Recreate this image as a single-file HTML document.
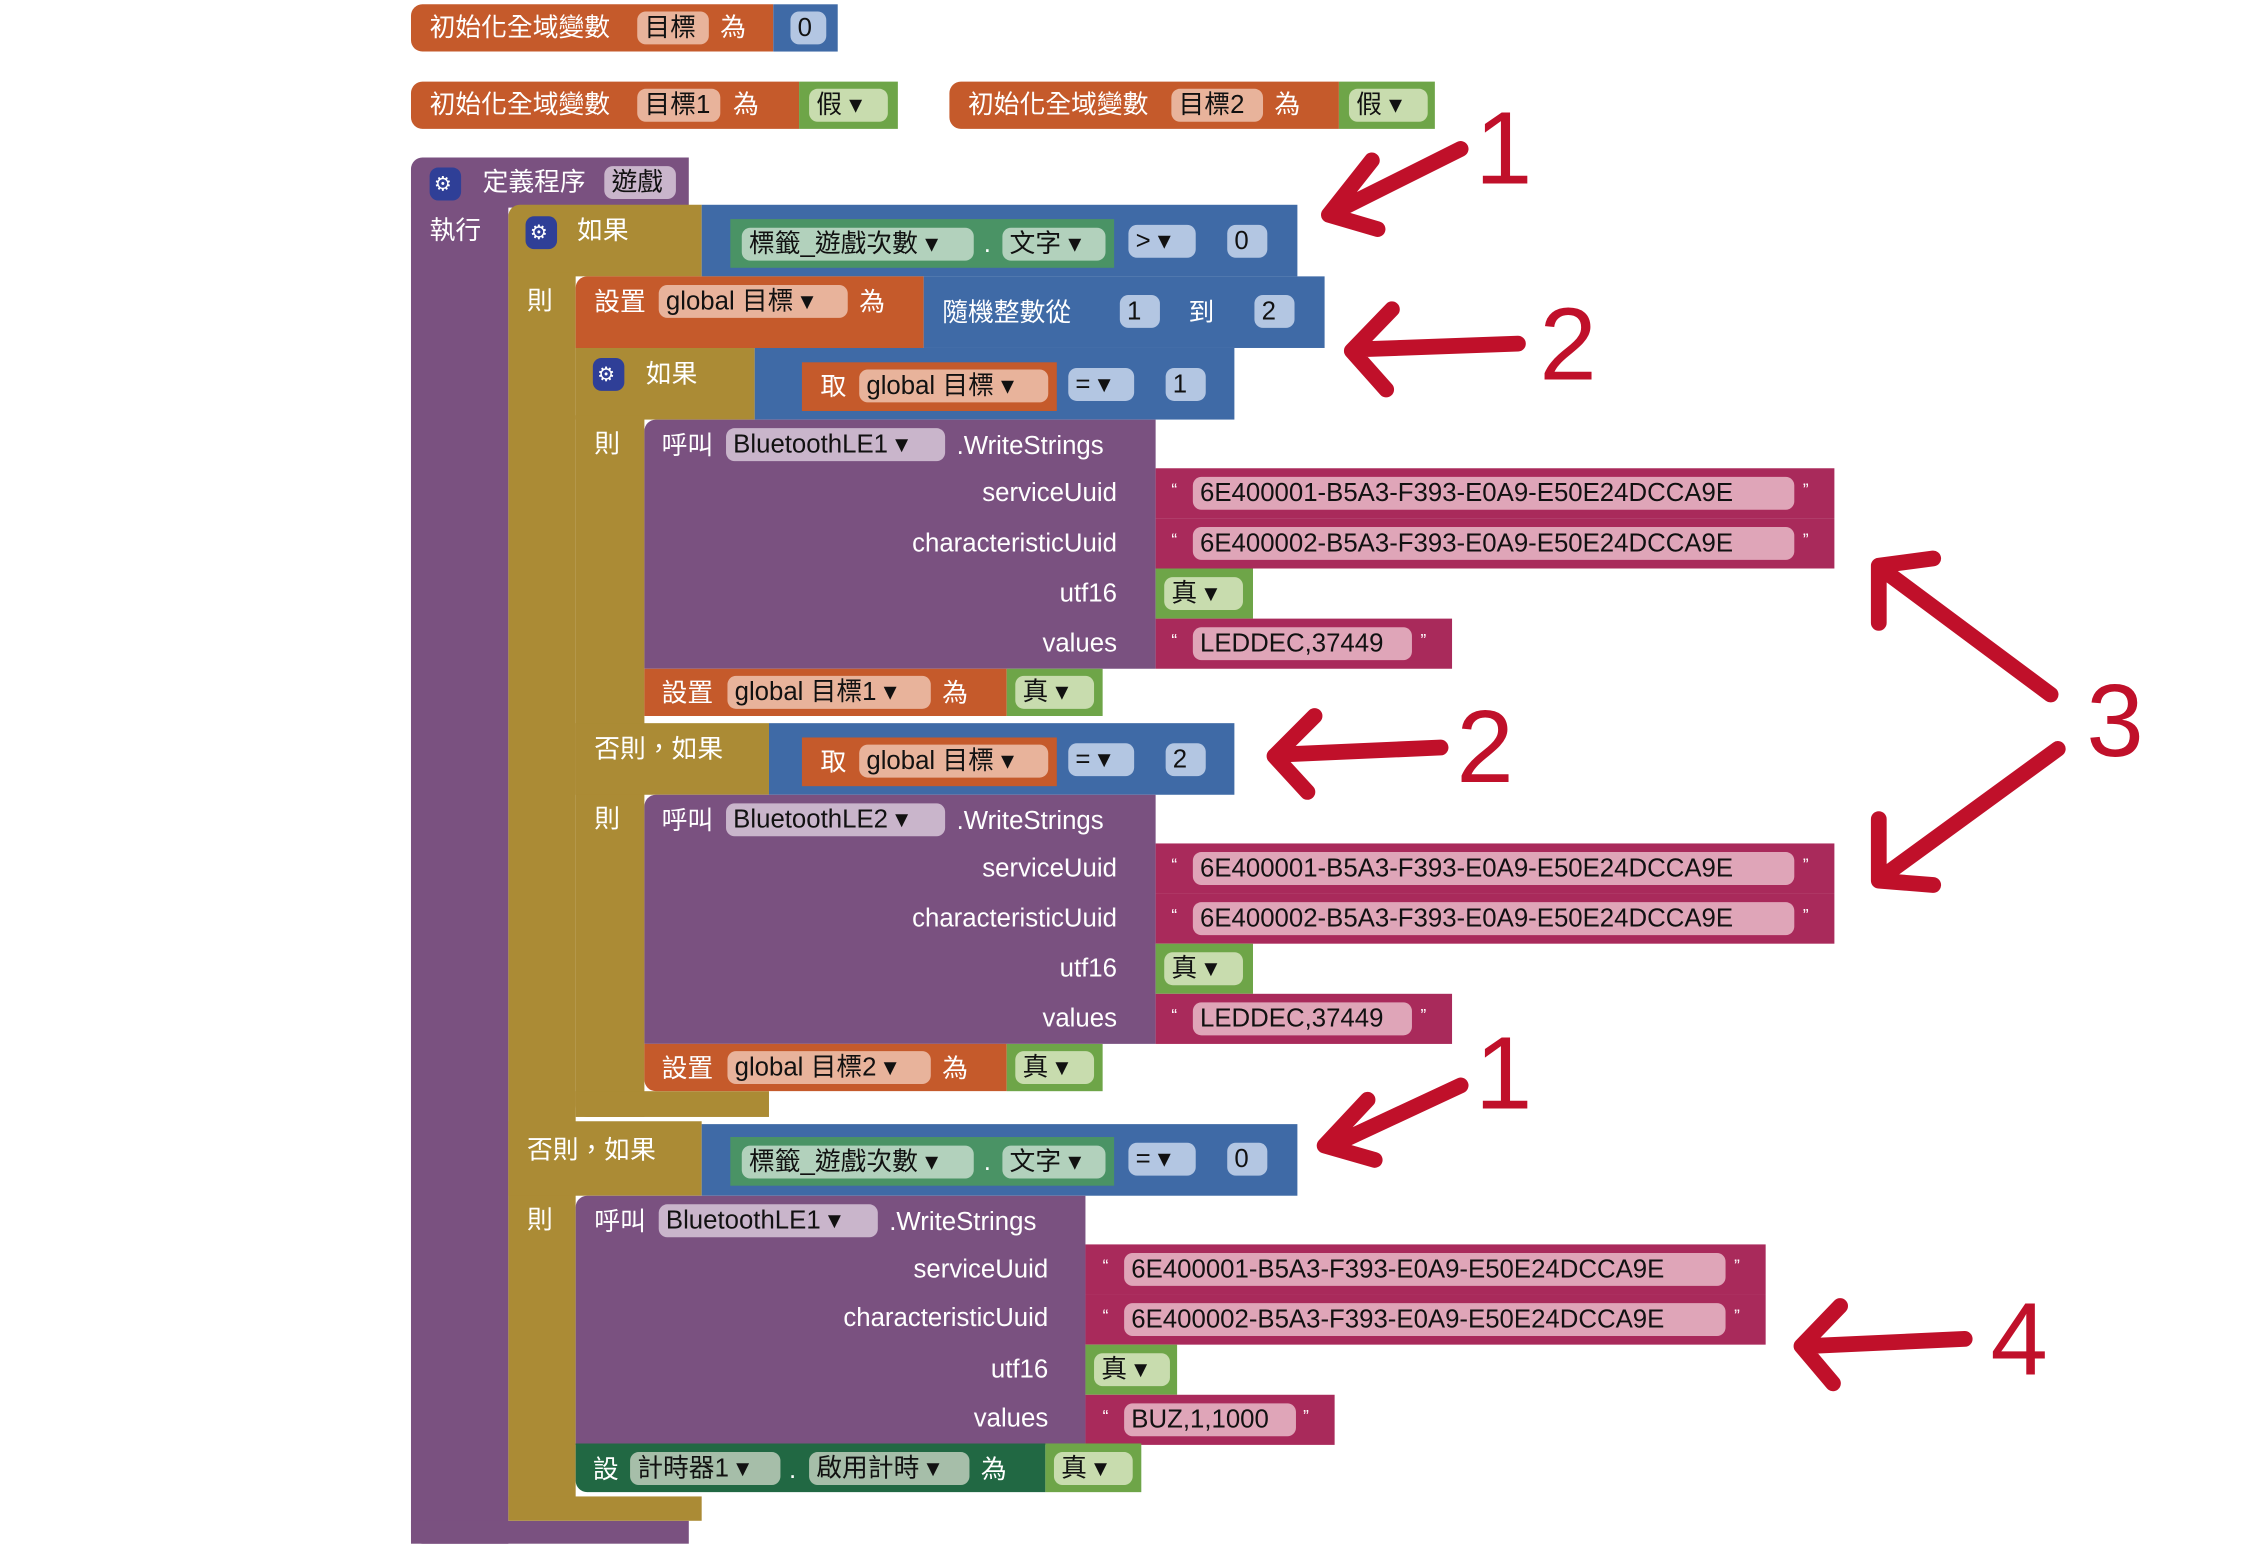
<!DOCTYPE html>
<html><head><meta charset="utf-8"><style>
body{margin:0;width:2244px;height:1547px;background:#fff;overflow:hidden}
#c{position:absolute;left:0;top:0;width:1570px;height:1080px;transform:scale(1.432);transform-origin:0 0;font-family:"Liberation Sans","Noto Sans CJK TC",sans-serif;font-size:18px}
.b{position:absolute;box-sizing:border-box}
.t{position:absolute;color:#fff;white-space:nowrap;line-height:20px}
.p{position:absolute;border-radius:6px;color:#111;white-space:nowrap;line-height:22px;padding:0 5px;box-sizing:border-box;height:23px}
.o{background:#c55a2b}.op{background:#e8b39b}
.u{background:#3f6aa6}.up{background:#b3c6e2}
.g{background:#6ea548}.gp{background:#c8dcae}
.m{background:#a92a5b}.mp{background:#dfa5b8}
.v{background:#7a5180}.vp{background:#c9b5cb}
.ol{background:#ab8b35}
.tg{background:#4a9365}.tgp{background:#b2d1bc}
.dg{background:#216843}.dgp{background:#a6bea9}
</style></head><body><div id="c">
<div class="b o" style="left:287px;top:3px;width:253px;height:33px;border-radius:8px 0 0 8px"></div>
<div class="t" style="left:300px;top:9px">初始化全域變數</div>
<div class="p op" style="left:445px;top:8px;width:50px">目標</div>
<div class="t" style="left:503px;top:9px">為</div>
<div class="b u" style="left:540px;top:3px;width:45px;height:33px"></div>
<div class="p up" style="left:552px;top:8px;width:25px">0</div>

<div class="b o" style="left:287px;top:57px;width:271px;height:33px;border-radius:8px 0 0 8px"></div>
<div class="t" style="left:300px;top:63px">初始化全域變數</div>
<div class="p op" style="left:445px;top:62px;width:58px">目標1</div>
<div class="t" style="left:512px;top:63px">為</div>
<div class="b g" style="left:558px;top:57px;width:69px;height:33px"></div>
<div class="p gp" style="left:565px;top:62px;width:55px">假 ▾</div>

<div class="b o" style="left:663px;top:57px;width:272px;height:33px;border-radius:8px 0 0 8px"></div>
<div class="t" style="left:676px;top:63px">初始化全域變數</div>
<div class="p op" style="left:818px;top:62px;width:64px">目標2</div>
<div class="t" style="left:890px;top:63px">為</div>
<div class="b g" style="left:935px;top:57px;width:67px;height:33px"></div>
<div class="p gp" style="left:942px;top:62px;width:55px">假 ▾</div>

<div class="b v" style="left:287px;top:110px;width:194px;height:35px;border-radius:8px 0 0 0"></div>
<div class="b v" style="left:287px;top:140px;width:68px;height:938px;border-radius:0 0 0 8px"></div>
<div class="b v" style="left:287px;top:1062px;width:194px;height:16px"></div>
<div class="p" style="left:300px;top:117px;width:22px;background:#2f3f97;color:#fff;font-size:14px;padding:0 3px">⚙</div>
<div class="t" style="left:337px;top:117px">定義程序</div>
<div class="p vp" style="left:422px;top:116px;width:50px">遊戲</div>
<div class="t" style="left:300px;top:151px">執行</div>

<div class="b ol" style="left:355px;top:143px;width:135px;height:50px;border-radius:8px 0 0 0"></div>
<div class="b ol" style="left:355px;top:190px;width:47px;height:870px;border-radius:0 0 0 8px"></div>
<div class="b ol" style="left:355px;top:783px;width:135px;height:52px"></div>
<div class="b ol" style="left:355px;top:1045px;width:135px;height:17px"></div>
<div class="p" style="left:367px;top:151px;width:22px;background:#2f3f97;color:#fff;font-size:14px;padding:0 3px">⚙</div>
<div class="t" style="left:403px;top:151px">如果</div>
<div class="t" style="left:368px;top:200px">則</div>
<div class="t" style="left:368px;top:793px">否則，如果</div>
<div class="t" style="left:368px;top:842px">則</div>

<div class="b u" style="left:490px;top:143px;width:416px;height:50px"></div>
<div class="b tg" style="left:510px;top:153px;width:268px;height:34px"></div>
<div class="p tgp" style="left:518px;top:159px;width:162px">標籤_遊戲次數 ▾</div>
<div class="t" style="left:687px;top:160px">.</div>
<div class="p tgp" style="left:700px;top:159px;width:72px">文字 ▾</div>
<div class="p up" style="left:788px;top:157px;width:47px">&gt; ▾</div>
<div class="p up" style="left:857px;top:157px;width:28px">0</div>

<div class="b o" style="left:402px;top:193px;width:243px;height:50px;border-radius:8px 0 0 0"></div>
<div class="t" style="left:415px;top:201px">設置</div>
<div class="p op" style="left:460px;top:199px;width:132px">global 目標 ▾</div>
<div class="t" style="left:600px;top:201px">為</div>
<div class="b u" style="left:645px;top:193px;width:280px;height:50px"></div>
<div class="t" style="left:658px;top:208px">隨機整數從</div>
<div class="p up" style="left:782px;top:206px;width:28px">1</div>
<div class="t" style="left:830px;top:208px">到</div>
<div class="p up" style="left:876px;top:206px;width:28px">2</div>

<div class="b ol" style="left:402px;top:243px;width:125px;height:50px"></div>
<div class="b ol" style="left:402px;top:290px;width:48px;height:490px;border-radius:0 0 0 8px"></div>
<div class="b ol" style="left:402px;top:505px;width:135px;height:50px"></div>
<div class="b ol" style="left:402px;top:762px;width:135px;height:18px"></div>
<div class="p" style="left:414px;top:250px;width:22px;background:#2f3f97;color:#fff;font-size:14px;padding:0 3px">⚙</div>
<div class="t" style="left:451px;top:251px">如果</div>
<div class="t" style="left:415px;top:300px">則</div>
<div class="t" style="left:415px;top:513px">否則，如果</div>
<div class="t" style="left:415px;top:562px">則</div>

<div class="b u" style="left:527px;top:243px;width:335px;height:50px"></div>
<div class="b o" style="left:560px;top:253px;width:178px;height:34px"></div>
<div class="t" style="left:573px;top:260px">取</div>
<div class="p op" style="left:600px;top:258px;width:132px">global 目標 ▾</div>
<div class="p up" style="left:746px;top:257px;width:46px">= ▾</div>
<div class="p up" style="left:814px;top:257px;width:28px">1</div>

<div class="b u" style="left:537px;top:505px;width:325px;height:50px"></div>
<div class="b o" style="left:560px;top:515px;width:178px;height:34px"></div>
<div class="t" style="left:573px;top:522px">取</div>
<div class="p op" style="left:600px;top:520px;width:132px">global 目標 ▾</div>
<div class="p up" style="left:746px;top:519px;width:46px">= ▾</div>
<div class="p up" style="left:814px;top:519px;width:28px">2</div>

<div class="b v" style="left:450px;top:293px;width:357px;height:174px;border-radius:8px 0 0 0"></div>
<div class="t" style="left:462px;top:301px">呼叫</div>
<div class="p vp" style="left:507px;top:299px;width:153px">BluetoothLE1 ▾</div>
<div class="t" style="left:668px;top:301px">.WriteStrings</div>
<div class="t" style="right:790px;top:334px">serviceUuid</div>
<div class="t" style="right:790px;top:369px">characteristicUuid</div>
<div class="t" style="right:790px;top:404px">utf16</div>
<div class="t" style="right:790px;top:439px">values</div>
<div class="b m" style="left:807px;top:327px;width:474px;height:35px"></div>
<div class="t" style="left:818px;top:332px;font-size:12px">“</div><div class="p mp" style="left:833px;top:333px;width:420px">6E400001-B5A3-F393-E0A9-E50E24DCCA9E</div><div class="t" style="left:1259px;top:332px;font-size:12px">”</div>
<div class="b m" style="left:807px;top:362px;width:474px;height:35px"></div>
<div class="t" style="left:818px;top:367px;font-size:12px">“</div><div class="p mp" style="left:833px;top:368px;width:420px">6E400002-B5A3-F393-E0A9-E50E24DCCA9E</div><div class="t" style="left:1259px;top:367px;font-size:12px">”</div>
<div class="b g" style="left:807px;top:397px;width:68px;height:35px"></div>
<div class="p gp" style="left:813px;top:403px;width:55px">真 ▾</div>
<div class="b m" style="left:807px;top:432px;width:207px;height:35px"></div>
<div class="t" style="left:818px;top:437px;font-size:12px">“</div><div class="p mp" style="left:833px;top:438px;width:153px">LEDDEC,37449</div><div class="t" style="left:992px;top:437px;font-size:12px">”</div>

<div class="b o" style="left:450px;top:467px;width:253px;height:33px"></div>
<div class="t" style="left:462px;top:474px">設置</div>
<div class="p op" style="left:508px;top:472px;width:142px">global 目標1 ▾</div>
<div class="t" style="left:658px;top:474px">為</div>
<div class="b g" style="left:703px;top:467px;width:67px;height:33px"></div>
<div class="p gp" style="left:709px;top:472px;width:55px">真 ▾</div>

<div class="b v" style="left:450px;top:555px;width:357px;height:174px;border-radius:8px 0 0 0"></div>
<div class="t" style="left:462px;top:563px">呼叫</div>
<div class="p vp" style="left:507px;top:561px;width:153px">BluetoothLE2 ▾</div>
<div class="t" style="left:668px;top:563px">.WriteStrings</div>
<div class="t" style="right:790px;top:596px">serviceUuid</div>
<div class="t" style="right:790px;top:631px">characteristicUuid</div>
<div class="t" style="right:790px;top:666px">utf16</div>
<div class="t" style="right:790px;top:701px">values</div>
<div class="b m" style="left:807px;top:589px;width:474px;height:35px"></div>
<div class="t" style="left:818px;top:594px;font-size:12px">“</div><div class="p mp" style="left:833px;top:595px;width:420px">6E400001-B5A3-F393-E0A9-E50E24DCCA9E</div><div class="t" style="left:1259px;top:594px;font-size:12px">”</div>
<div class="b m" style="left:807px;top:624px;width:474px;height:35px"></div>
<div class="t" style="left:818px;top:629px;font-size:12px">“</div><div class="p mp" style="left:833px;top:630px;width:420px">6E400002-B5A3-F393-E0A9-E50E24DCCA9E</div><div class="t" style="left:1259px;top:629px;font-size:12px">”</div>
<div class="b g" style="left:807px;top:659px;width:68px;height:35px"></div>
<div class="p gp" style="left:813px;top:665px;width:55px">真 ▾</div>
<div class="b m" style="left:807px;top:694px;width:207px;height:35px"></div>
<div class="t" style="left:818px;top:699px;font-size:12px">“</div><div class="p mp" style="left:833px;top:700px;width:153px">LEDDEC,37449</div><div class="t" style="left:992px;top:699px;font-size:12px">”</div>

<div class="b o" style="left:450px;top:729px;width:253px;height:33px;border-radius:0 0 0 8px"></div>
<div class="t" style="left:462px;top:736px">設置</div>
<div class="p op" style="left:508px;top:734px;width:142px">global 目標2 ▾</div>
<div class="t" style="left:658px;top:736px">為</div>
<div class="b g" style="left:703px;top:729px;width:67px;height:33px"></div>
<div class="p gp" style="left:709px;top:734px;width:55px">真 ▾</div>

<div class="b u" style="left:490px;top:785px;width:416px;height:50px"></div>
<div class="b tg" style="left:510px;top:794px;width:268px;height:34px"></div>
<div class="p tgp" style="left:518px;top:800px;width:162px">標籤_遊戲次數 ▾</div>
<div class="t" style="left:687px;top:801px">.</div>
<div class="p tgp" style="left:700px;top:800px;width:72px">文字 ▾</div>
<div class="p up" style="left:788px;top:798px;width:47px">= ▾</div>
<div class="p up" style="left:857px;top:798px;width:28px">0</div>

<div class="b v" style="left:402px;top:835px;width:356px;height:174px;border-radius:8px 0 0 0"></div>
<div class="t" style="left:415px;top:843px">呼叫</div>
<div class="p vp" style="left:460px;top:841px;width:153px">BluetoothLE1 ▾</div>
<div class="t" style="left:621px;top:843px">.WriteStrings</div>
<div class="t" style="right:838px;top:876px">serviceUuid</div>
<div class="t" style="right:838px;top:910px">characteristicUuid</div>
<div class="t" style="right:838px;top:946px">utf16</div>
<div class="t" style="right:838px;top:980px">values</div>
<div class="b m" style="left:758px;top:869px;width:475px;height:35px"></div>
<div class="t" style="left:770px;top:874px;font-size:12px">“</div><div class="p mp" style="left:785px;top:875px;width:420px">6E400001-B5A3-F393-E0A9-E50E24DCCA9E</div><div class="t" style="left:1211px;top:874px;font-size:12px">”</div>
<div class="b m" style="left:758px;top:904px;width:475px;height:35px"></div>
<div class="t" style="left:770px;top:909px;font-size:12px">“</div><div class="p mp" style="left:785px;top:910px;width:420px">6E400002-B5A3-F393-E0A9-E50E24DCCA9E</div><div class="t" style="left:1211px;top:909px;font-size:12px">”</div>
<div class="b g" style="left:758px;top:939px;width:64px;height:35px"></div>
<div class="p gp" style="left:764px;top:945px;width:53px">真 ▾</div>
<div class="b m" style="left:758px;top:974px;width:174px;height:35px"></div>
<div class="t" style="left:770px;top:979px;font-size:12px">“</div><div class="p mp" style="left:785px;top:980px;width:120px">BUZ,1,1000</div><div class="t" style="left:910px;top:979px;font-size:12px">”</div>

<div class="b dg" style="left:402px;top:1008px;width:328px;height:34px;border-radius:0 0 0 8px"></div>
<div class="t" style="left:414px;top:1016px">設</div>
<div class="p dgp" style="left:440px;top:1014px;width:105px">計時器1 ▾</div>
<div class="t" style="left:551px;top:1016px">.</div>
<div class="p dgp" style="left:565px;top:1014px;width:112px">啟用計時 ▾</div>
<div class="t" style="left:685px;top:1016px">為</div>
<div class="b g" style="left:730px;top:1008px;width:67px;height:34px"></div>
<div class="p gp" style="left:736px;top:1014px;width:55px">真 ▾</div>

<svg style="position:absolute;left:0;top:0" width="1570" height="1080">
<g stroke="#c0102a" stroke-width="11" fill="none" stroke-linecap="round" stroke-linejoin="round">
<path d="M1020 104 L932 148 M958 112 L928 150 L962 160"/>
<path d="M1060 240 L948 244 M972 216 L944 245 L968 272"/>
<path d="M1006 522 L893 527 M918 500 L890 528 L913 553"/>
<path d="M1020 758 L930 800 M955 768 L925 800 L960 810"/>
<path d="M1372 935 L1262 940 M1285 912 L1258 940 L1280 966"/>
<path d="M1432 485 L1315 398 M1312 435 L1312 395 L1350 390"/>
<path d="M1437 523 L1315 612 M1312 572 L1312 615 L1350 618"/>
</g>
<g fill="#c0102a" font-family="Liberation Sans,sans-serif" font-size="72">
<text x="1030" y="128">1</text>
<text x="1075" y="265">2</text>
<text x="1017" y="546">2</text>
<text x="1030" y="774">1</text>
<text x="1457" y="528">3</text>
<text x="1390" y="960">4</text>
</g>
</svg>
</div></body></html>
